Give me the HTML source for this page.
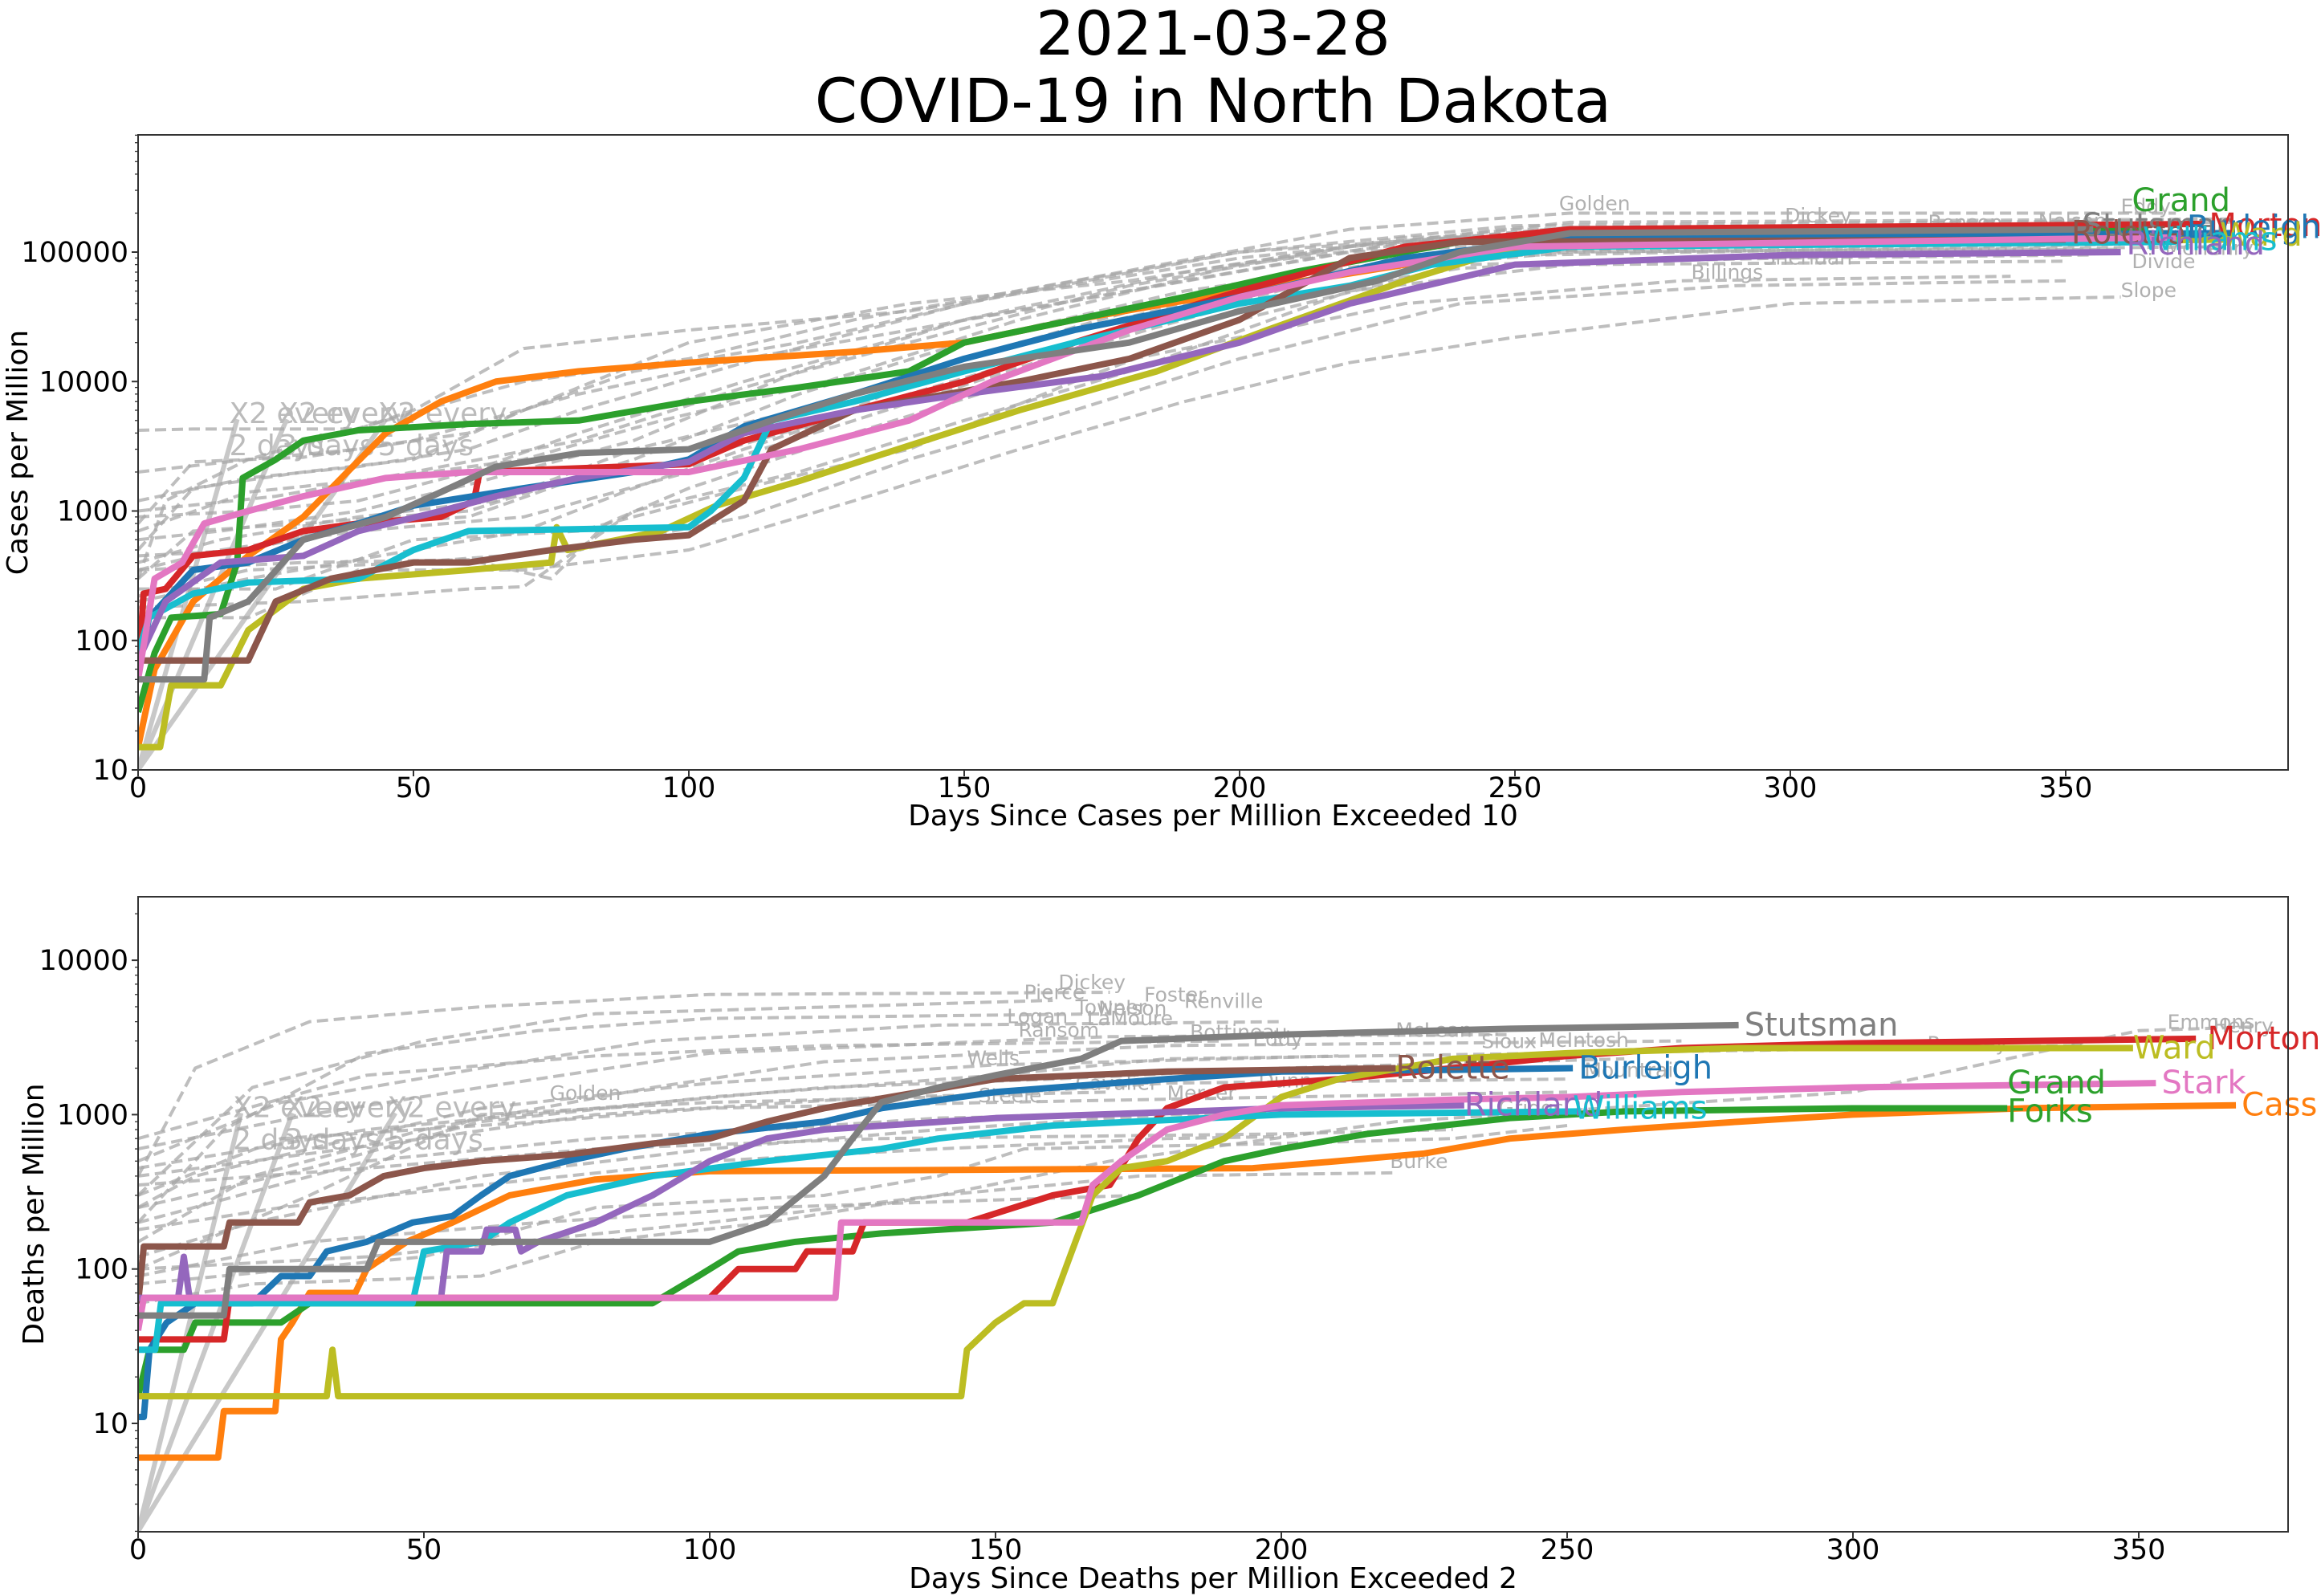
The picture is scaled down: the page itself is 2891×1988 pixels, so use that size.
<!DOCTYPE html>
<html><head><meta charset="utf-8"><style>
html,body{margin:0;padding:0;background:#fff;}
svg{display:block;font-family:"DejaVu Sans","Liberation Sans",sans-serif;}
</style></head><body>
<svg id="chart" width="2891" height="1988" viewBox="0 0 2891 1988" xmlns="http://www.w3.org/2000/svg">
<rect width="2891" height="1988" fill="#fff"/>
<text x="1511" y="68" font-size="76" text-anchor="middle">2021-03-28</text>
<text x="1511" y="152" font-size="76" text-anchor="middle">COVID-19 in North Dakota</text>
<g id="top"></g>
<g id="bot"></g>
</svg>
<script>
// ---------- data: cases per million ----------
const caseNames = ["Cass","Grand Forks","Morton","Burleigh","Ward","Williams","Rolette","Richland","Stark","Stutsman"];
const caseCass=[[0,15],[3,60],[10,200],[20,450],[30,900],[38,2000],[45,4000],[55,7000],[65,10000],[80,12000],[100,14000],[130,17000],[150,20000],[170,30000],[200,50000],[230,80000],[260,110000],[300,125000],[375,130000]];
const caseGrand=[[0,28],[3,80],[6,150],[15,160],[18,400],[19,1800],[25,2500],[30,3500],[40,4200],[60,4700],[80,5000],[100,7000],[120,9000],[140,12000],[150,20000],[170,30000],[190,45000],[210,70000],[240,120000],[260,140000],[300,145000],[365,150000]];
const caseMorton=[[0,50],[1,230],[5,250],[10,450],[20,500],[30,700],[40,800],[55,900],[61,1200],[62,2000],[100,2300],[110,3500],[130,6000],[150,10000],[170,20000],[200,50000],[230,110000],[260,150000],[375,165000]];
const caseBurleigh=[[0,60],[2,150],[10,350],[20,400],[30,600],[40,800],[50,1100],[70,1500],[90,2000],[100,2500],[110,4500],[130,8000],[150,15000],[170,25000],[200,45000],[230,90000],[260,130000],[380,140000]];
const caseWard=[[0,15],[4,15],[6,45],[15,45],[20,120],[30,250],[40,300],[60,350],[75,400],[76,750],[78,500],[95,700],[105,1100],[120,1700],[140,3200],[160,6000],[185,12000],[205,25000],[230,60000],[250,110000],[380,125000]];
const caseWilliams=[[0,80],[2,150],[10,230],[20,280],[40,300],[50,500],[60,700],[100,750],[104,1000],[110,1800],[115,5000],[130,7000],[150,12000],[170,20000],[200,40000],[220,55000],[235,80000],[260,110000],[370,120000]];
const caseRolette=[[0,70],[20,70],[25,200],[35,300],[50,400],[60,400],[75,500],[90,600],[100,650],[110,1200],[115,3000],[130,6000],[160,10000],[180,15000],[200,30000],[220,90000],[240,120000],[350,125000]];
const caseRichland=[[0,70],[5,200],[15,400],[30,450],[40,700],[55,1000],[65,1300],[80,1800],[100,2400],[110,4000],[130,6000],[150,8000],[175,11000],[200,20000],[220,40000],[250,80000],[300,95000],[360,100000]];
const caseStark=[[0,50],[3,300],[8,400],[12,800],[20,1000],[30,1300],[45,1800],[60,2000],[100,2000],[120,3000],[140,5000],[155,10000],[180,25000],[200,45000],[220,70000],[250,110000],[370,130000]];
const caseStutsman=[[0,50],[12,50],[13,150],[20,200],[30,600],[45,900],[55,1400],[65,2200],[80,2800],[100,3000],[115,5000],[130,8000],[150,13000],[180,20000],[200,35000],[225,60000],[240,100000],[260,140000],[355,150000]];
const caseGray=[
[[0,300],[5,1200],[20,2500],[40,3000],[60,4000],[80,9000],[100,20000],[140,40000],[180,60000],[220,110000],[260,170000],[380,180000]],
[[0,4200],[10,4300],[40,4300],[50,6000],[70,18000],[100,25000],[140,35000],[200,90000],[250,150000],[380,170000]],
[[0,500],[10,1500],[30,2000],[50,2500],[70,6000],[90,12000],[120,20000],[160,50000],[200,100000],[250,160000],[370,175000]],
[[0,900],[20,1000],[40,1200],[60,2000],[80,4000],[110,10000],[150,30000],[190,60000],[230,120000],[360,150000]],
[[0,400],[15,600],[40,900],[65,1200],[90,3000],[120,6000],[160,20000],[200,50000],[240,100000],[365,120000]],
[[0,200],[20,300],[50,500],[70,700],[90,1500],[110,3000],[140,8000],[180,25000],[220,70000],[260,100000],[380,110000]],
[[0,350],[30,400],[60,420],[75,300],[85,800],[100,1500],[130,4000],[160,10000],[190,18000],[230,40000],[280,60000],[340,65000]],
[[0,150],[20,150],[40,350],[70,350],[100,500],[130,1200],[160,3000],[190,7000],[220,14000],[250,22000],[300,40000],[360,45000]],
[[0,600],[15,700],[40,1000],[60,1600],[90,3500],[120,12000],[150,30000],[190,70000],[230,130000],[370,140000]],
[[0,1200],[20,1800],[40,2200],[60,3000],[80,6000],[110,14000],[150,40000],[200,100000],[250,140000],[365,160000]],
[[0,2000],[20,2500],[45,5000],[70,10000],[100,15000],[130,30000],[170,60000],[220,150000],[260,200000],[370,200000]],
[[0,250],[25,250],[50,600],[80,700],[110,1500],[140,3000],[170,10000],[200,30000],[240,80000],[300,90000],[355,95000]],
[[0,800],[10,2400],[30,2600],[50,3500],[80,8000],[110,15000],[140,25000],[180,50000],[220,100000],[260,120000],[360,125000]],
[[0,450],[20,500],[40,800],[60,900],[80,1800],[100,2500],[125,5000],[150,15000],[185,40000],[225,90000],[360,115000]],
[[0,300],[10,700],[30,800],[60,1000],[90,2500],[120,8000],[150,20000],[190,50000],[240,100000],[360,105000]],
[[0,180],[30,200],[60,250],[70,260],[90,1000],[120,2000],[150,5000],[180,12000],[220,50000],[260,80000],[350,85000]],
[[0,700],[20,1400],[45,1800],[70,2500],[95,5000],[125,10000],[160,30000],[200,80000],[240,130000],[370,145000]],
[[0,350],[15,500],[40,700],[70,900],[100,2000],[130,5000],[165,15000],[200,40000],[240,75000],[300,95000],[360,98000]],
[[0,1000],[25,1300],[50,2000],[80,3500],[110,9000],[140,20000],[180,55000],[220,110000],[260,155000],[370,160000]],
[[0,220],[20,350],[50,400],[80,500],[110,900],[140,2500],[170,6000],[200,15000],[240,40000],[290,55000],[350,60000]]
];
const caseGrayLabels=[["Golden",258,210000],["Dickey",299,170000],["Eddy",360,200000],["Benson",325,150000],["Nelson",345,155000],["Sheridan",295,80000],["Billings",282,62000],["McHenry",368,95000],["Divide",362,75000],["Slope",360,45000]];
const caseLabelNames=["Grand","Stutsman","Rolette","Morton","Burleigh","Ward","Williams","Richland"];
const caseLabelDays=[362,353,351,376,372,378,364,361];
const caseLabelVals=[250000,160000,140000,160000,155000,135000,125000,115000];
// ---------- data: deaths per million ----------
const deathCass=[[0,6],[14,6],[15,12],[24,12],[25,35],[27,45],[30,70],[38,70],[40,100],[47,150],[55,200],[65,300],[80,380],[100,430],[150,440],[195,450],[210,500],[225,560],[240,700],[260,800],[280,900],[300,1000],[330,1100],[367,1150]];
const deathGrand=[[0,15],[2,30],[8,30],[10,45],[25,45],[30,60],[90,60],[98,90],[105,130],[115,150],[130,170],[160,200],[175,300],[190,500],[200,600],[215,750],[240,950],[260,1050],[300,1100],[327,1100]];
const deathMorton=[[0,35],[15,35],[16,65],[100,65],[105,100],[115,100],[117,130],[125,130],[127,200],[145,200],[160,300],[170,350],[175,700],[180,1100],[190,1500],[210,1700],[230,2000],[250,2400],[270,2700],[300,2900],[360,3100]];
const deathBurleigh=[[0,11],[1,11],[2,30],[5,45],[10,60],[20,60],[25,90],[30,90],[33,130],[40,150],[48,200],[55,220],[60,300],[65,400],[75,500],[85,600],[100,750],[120,900],[130,1100],[150,1400],[180,1700],[200,1900],[230,1950],[251,2000]];
const deathWard=[[0,15],[33,15],[34,30],[35,15],[144,15],[145,30],[150,45],[155,60],[160,60],[163,120],[167,300],[172,450],[180,500],[190,700],[200,1300],[210,1700],[230,2300],[250,2500],[280,2700],[349,2700]];
const deathWilliams=[[0,30],[3,30],[4,60],[48,60],[50,130],[60,150],[65,200],[75,300],[90,400],[110,500],[130,600],[140,700],[160,850],[200,1000],[252,1050]];
const deathRolette=[[0,60],[1,140],[15,140],[16,200],[28,200],[30,270],[37,300],[43,400],[50,450],[60,500],[75,550],[90,650],[100,700],[110,900],[120,1100],[150,1700],[180,1900],[220,2000]];
const deathRichland=[[0,65],[7,65],[8,120],[9,65],[53,65],[54,130],[60,130],[61,180],[66,180],[67,130],[70,150],[80,200],[90,300],[100,500],[110,700],[120,800],[150,950],[200,1100],[232,1150]];
const deathStark=[[0,40],[1,65],[122,65],[123,200],[165,200],[167,350],[172,500],[180,800],[190,1000],[200,1150],[230,1250],[250,1300],[270,1400],[300,1500],[353,1600]];
const deathStutsman=[[0,50],[15,50],[16,100],[40,100],[42,150],[100,150],[110,200],[120,400],[125,700],[130,1200],[140,1500],[150,1800],[165,2300],[172,3000],[200,3300],[240,3600],[280,3800]];
const deathGray=[
[[0,400],[10,2000],[30,4000],[60,5000],[100,6000],[170,6200]],
[[0,300],[20,1500],[50,3000],[80,4500],[160,5500]],
[[0,200],[15,800],[40,2500],[70,3500],[100,4200],[170,4500]],
[[0,500],[25,1200],[60,2000],[90,3000],[140,3800],[200,4000]],
[[0,600],[30,1000],[60,1500],[100,2500],[150,3000],[170,3200],[240,3300]],
[[0,150],[20,400],[50,800],[90,1500],[120,2200],[180,2800],[270,3000]],
[[0,250],[30,450],[60,900],[100,1300],[150,1800],[180,2300],[340,2800]],
[[0,450],[40,800],[80,1100],[120,1500],[160,1700],[200,2000],[260,2300]],
[[0,100],[30,300],[60,1000],[100,1200],[140,1300],[180,1600],[250,1700]],
[[0,300],[25,700],[70,900],[100,1100],[150,1200],[200,1300],[250,1400]],
[[0,200],[40,500],[80,700],[110,800],[140,950],[170,1000]],
[[0,120],[20,200],[60,400],[100,600],[140,800],[180,1000],[240,1050]],
[[0,80],[50,120],[80,250],[120,300],[140,400],[155,600],[200,650],[230,700],[250,850]],
[[0,350],[40,450],[80,600],[130,700],[200,750],[230,800]],
[[0,100],[40,120],[100,200],[140,300],[160,350],[175,400],[220,420]],
[[0,60],[20,80],[60,90],[80,150],[110,200],[140,300],[170,500],[220,900],[300,1400],[350,3500],[370,3700]],
[[0,700],[15,1000],[40,1800],[80,2400],[120,2800],[190,3000]],
[[0,250],[10,400],[30,600],[60,1100],[100,1600],[150,2100],[210,2400]],
[[0,400],[20,500],[50,700],[80,1000],[130,1300],[170,1400]],
[[0,180],[25,250],[60,350],[100,500],[140,600],[180,700],[200,720]],
[[0,90],[30,150],[70,200],[110,250],[150,280],[175,300]]
];
const deathGrayLabels=[["Dickey",161,6500],["Pierce",155,5600],["Foster",176,5400],["Renville",183,4900],["Towner",164,4500],["Nelson",168,4400],["Logan",152,3900],["LaMoure",166,3800],["Ransom",154,3200],["Bottineau",184,3100],["McLean",220,3200],["Eddy",195,2800],["Sioux",235,2700],["McIntosh",245,2750],["Mountrail",253,1750],["Wells",145,2100],["Steele",147,1200],["Cavalier",164,1450],["Mercer",180,1250],["Golden",72,1250],["Dunn",196,1500],["Burke",219,450],["Emmons",355,3600],["Henry",363,3400],["Ramsey",313,2600],["Griggs",238,1000]];
const deathLabelNames=["Stutsman","Morton","Ward","Rolette","Burleigh","Grand","Forks","Stark","Richland","Williams","Cass"];
const deathLabelDays=[281,362,349,220,252,327,327,354,232,251,368];
const deathLabelVals=[3800,3100,2700,2000,2000,1600,1050,1600,1150,1100,1150];
const xTicks=[0,50,100,150,200,250,300,350];
const caseYTicks=[10,100,1000,10000,100000];
const deathYTicks=[10,100,1000,10000];
const doublingDays=[2,3,5];

const colors=["#ff7f0e","#2ca02c","#d62728","#1f77b4","#bcbd22","#17becf","#8c564b","#9467bd","#e377c2","#7f7f7f"];
const caseSeries=[caseCass,caseGrand,caseMorton,caseBurleigh,caseWard,caseWilliams,caseRolette,caseRichland,caseStark,caseStutsman];
const deathSeries=[deathCass,deathGrand,deathMorton,deathBurleigh,deathWard,deathWilliams,deathRolette,deathRichland,deathStark,deathStutsman];
const caseLabelColors=["#2ca02c","#7f7f7f","#8c564b","#d62728","#1f77b4","#bcbd22","#17becf","#9467bd"];
const deathLabelColors=["#7f7f7f","#d62728","#bcbd22","#8c564b","#1f77b4","#2ca02c","#2ca02c","#e377c2","#9467bd","#17becf","#ff7f0e"];

const NS="http://www.w3.org/2000/svg";
function mk(parent,tag,attrs){const e=document.createElementNS(NS,tag);for(const k in attrs)e.setAttribute(k,attrs[k]);parent.appendChild(e);return e;}

function panel(g,cfg){
  const L=172,R=2850,T=cfg.top,B=cfg.bottom;
  const x=d=>L+d*cfg.pxPerDay;
  const y=v=>cfg.y10-(Math.log10(v)-1)*cfg.decade;
  const clip=mk(g,"clipPath",{id:cfg.id+"clip"});
  mk(clip,"rect",{x:L,y:T,width:R-L,height:B-T});
  const plot=mk(g,"g",{"clip-path":"url(#"+cfg.id+"clip)"});
  
  
  doublingDays.forEach(dd=>{
    const d1=dd*Math.log2(cfg.dblMax/cfg.base);
    const ln=mk(plot,"line",{x1:x(0),y1:y(cfg.base),x2:x(d1),y2:y(cfg.dblMax),stroke:"#c8c8c8","stroke-width":6});
    
    
    const t=mk(plot,"text",{x:x(d1)-10,y:y(cfg.dblMax)+5,"font-size":36,fill:"#bbb","text-anchor":"start"});
    t.textContent="X2 every";
    
    
    const t2=mk(plot,"text",{x:x(d1)-10,y:y(cfg.dblMax)+45,"font-size":36,fill:"#bbb"});
    t2.textContent=dd+" days";
    
    
  });
  cfg.gray.forEach(s=>{
    const p=mk(plot,"polyline",{points:s.map(q=>x(q[0])+","+y(q[1])).join(" "),fill:"none",stroke:"#a8a8a8","stroke-opacity":0.75,"stroke-width":4,"stroke-dasharray":"14,7"});
    
    
  });
  cfg.grayLabels.forEach(l=>{
    const t=mk(plot,"text",{x:x(l[1]),y:y(l[2]),"font-size":25,fill:"#b0b0b0"});
    t.textContent=l[0];
    
    
  });
  cfg.series.forEach((s,i)=>{
    const p=mk(plot,"polyline",{points:s.map(q=>x(q[0])+","+y(q[1])).join(" "),fill:"none",stroke:colors[i],"stroke-width":8,"stroke-linejoin":"round"});
    
    
  });
  cfg.labelNames.forEach((n,i)=>{
    const t=mk(g,"text",{x:x(cfg.labelDays[i]),y:y(cfg.labelVals[i])+13,"font-size":40,fill:cfg.labelColors[i]});
    t.textContent=n;
    
    
  });
  const fr=mk(g,"rect",{x:L,y:T,width:R-L,height:B-T,fill:"none",stroke:"#333","stroke-width":2});
  
  
  xTicks.forEach(d=>{
    if(x(d)>R)return;
    mk(g,"line",{x1:x(d),y1:B,x2:x(d),y2:B+8,stroke:"#333","stroke-width":2});
    const t=mk(g,"text",{x:x(d),y:B+34,"font-size":35,"text-anchor":"middle"});
    t.textContent=d;
    
    
  });
  for(let e=-1;e<7;e++){
    for(let m=1;m<10;m++){
      const v=m*Math.pow(10,e);
      const yy=y(v);
      if(yy<T-0.5||yy>B+0.5)continue;
      mk(g,"line",{x1:L,y1:yy,x2:L-(m===1?8:4),y2:yy,stroke:"#333","stroke-width":m===1?2:1.3});
    }
  }
  cfg.yTicks.forEach(v=>{
    const t=mk(g,"text",{x:L-12,y:y(v)+12,"font-size":35,"text-anchor":"end"});
    t.textContent=v;
    
    
  });
  const xl=mk(g,"text",{x:(L+R)/2,y:cfg.xlabelY,"font-size":36,"text-anchor":"middle"});
  xl.textContent=cfg.xlabel;
  
  
  const cy=(T+B)/2;
  const yl=mk(g,"text",{x:cfg.ylabelX,y:cy,"font-size":36,"text-anchor":"middle",transform:"rotate(-90 "+cfg.ylabelX+" "+cy+")"});
  yl.textContent=cfg.ylabel;
  
  
}

panel(document.getElementById("top"),{id:"top",top:168,bottom:959,pxPerDay:6.86,y10:959,decade:161.25,base:10,dblMax:5120,
  gray:caseGray,grayLabels:caseGrayLabels,series:caseSeries,labelNames:caseLabelNames,labelDays:caseLabelDays,labelVals:caseLabelVals,labelColors:caseLabelColors,
  yTicks:caseYTicks,xlabel:"Days Since Cases per Million Exceeded 10",xlabelY:1028,ylabel:"Cases per Million",ylabelX:34});
panel(document.getElementById("bot"),{id:"bot",top:1117,bottom:1908,pxPerDay:7.12,y10:1773,decade:192.3,base:2,dblMax:1024,
  gray:deathGray,grayLabels:deathGrayLabels,series:deathSeries,labelNames:deathLabelNames,labelDays:deathLabelDays,labelVals:deathLabelVals,labelColors:deathLabelColors,
  yTicks:deathYTicks,xlabel:"Days Since Deaths per Million Exceeded 2",xlabelY:1978,ylabel:"Deaths per Million",ylabelX:54});
</script>
</body></html>
